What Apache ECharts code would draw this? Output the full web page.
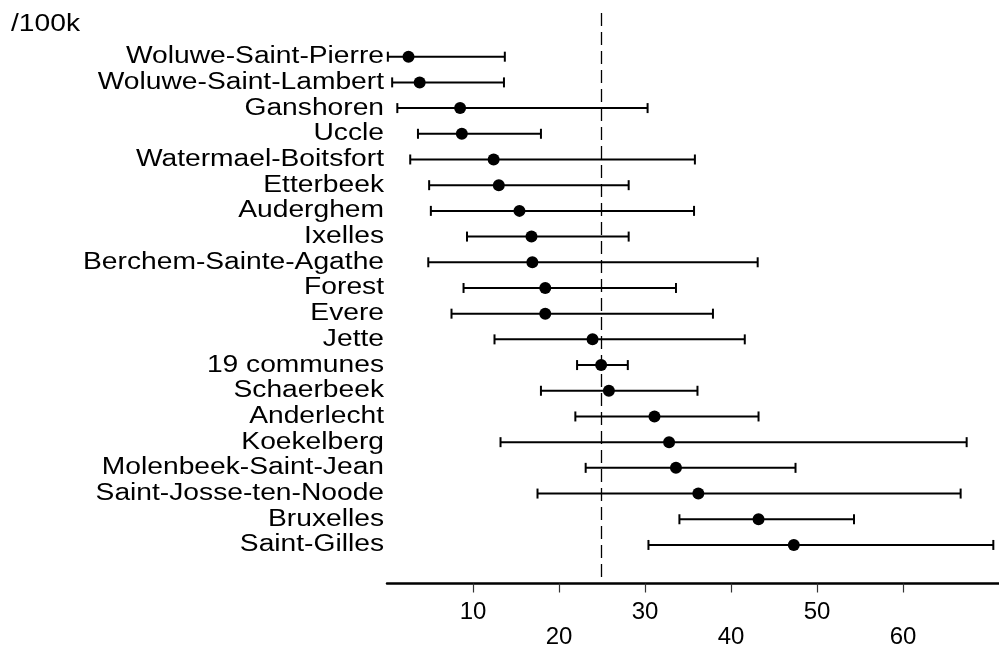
<!DOCTYPE html>
<html>
<head>
<meta charset="utf-8">
<script src="https://cdn.jsdelivr.net/npm/echarts@6/dist/echarts.min.js"></script>
<style>
  html, body { margin: 0; padding: 0; background: #fff; }
  #chart { width: 999px; height: 645px; }
</style>
</head>
<body>
<div id="chart"></div>
<script>
// Rate per 100 000 inhabitants by commune, with 95% confidence interval
const communes = [
  'Woluwe-Saint-Pierre', 'Woluwe-Saint-Lambert', 'Ganshoren', 'Uccle',
  'Watermael-Boitsfort', 'Etterbeek', 'Auderghem', 'Ixelles',
  'Berchem-Sainte-Agathe', 'Forest', 'Evere', 'Jette', '19 communes',
  'Schaerbeek', 'Anderlecht', 'Koekelberg', 'Molenbeek-Saint-Jean',
  'Saint-Josse-ten-Noode', 'Bruxelles', 'Saint-Gilles'
];
const rates = [
  2.5, 3.8, 8.5, 8.7, 12.4, 13.0, 15.4, 16.8, 16.9, 18.4,
  18.4, 23.9, 24.9, 25.8, 31.1, 32.8, 33.6, 36.2, 43.2, 47.3
];
const lowerCI = [
  0.1, 0.6, 1.2, 3.6, 2.7, 4.9, 5.1, 9.3, 4.8, 8.9,
  7.5, 12.5, 22.1, 17.9, 21.9, 13.2, 23.1, 17.5, 34.0, 30.4
];
const upperCI = [
  13.7, 13.6, 30.3, 17.9, 35.8, 28.1, 35.7, 28.1, 43.1, 33.6,
  37.9, 41.6, 28.0, 36.1, 43.2, 67.4, 47.5, 66.7, 54.3, 70.5
];
const regionMean = 24.9;
const xTicks = [10, 20, 30, 40, 50, 60];
const unitLabel = '/100k';

const FONT = '"Liberation Sans", Arial, Helvetica, sans-serif';
const TEXT_SIZE = 23.5;
const TEXT_STRETCH = 1.2;
const INK = '#000';

// one row per commune: [rate, row index, lower, upper]
const rows = communes.map((name, i) => [rates[i], i + 1, lowerCI[i], upperCI[i]]);

function renderInterval(params, api) {
  const y = api.value(1);
  const a = api.coord([api.value(2), y]);
  const b = api.coord([api.value(3), y]);
  const cap = 5;
  const style = { stroke: INK, lineWidth: 2 };
  return {
    type: 'group',
    children: [
      { type: 'line', shape: { x1: a[0], y1: a[1], x2: b[0], y2: b[1] }, style: style },
      { type: 'line', shape: { x1: a[0], y1: a[1] - cap, x2: a[0], y2: a[1] + cap }, style: style },
      { type: 'line', shape: { x1: b[0], y1: b[1] - cap, x2: b[0], y2: b[1] + cap }, style: style }
    ]
  };
}

function renderName(params, api) {
  const p = api.coord([0, api.value(1)]);
  return {
    type: 'text',
    x: p[0] - 3,
    y: p[1],
    scaleX: TEXT_STRETCH,
    style: {
      text: communes[params.dataIndex],
      fill: INK,
      fontFamily: FONT,
      fontSize: TEXT_SIZE,
      align: 'right',
      verticalAlign: 'middle'
    }
  };
}

const chart = echarts.init(document.getElementById('chart'));
chart.setOption({
  animation: false,
  backgroundColor: '#fff',
  grid: {
    left: 387, right: 0, top: 13, bottom: 61.5,
    containLabel: false,
    outerBoundsMode: 'none'
  },
  xAxis: {
    type: 'value',
    min: 0,
    max: 71.16,
    interval: 10,
    splitLine: { show: false },
    axisLine: { onZero: false, lineStyle: { color: INK, width: 2.5 } },
    axisTick: { customValues: xTicks, length: 9, lineStyle: { color: '#333', width: 1.2 } },
    axisLabel: {
      customValues: xTicks,
      margin: 17,
      color: INK,
      fontFamily: FONT,
      fontSize: 24,
      lineHeight: 24.5,
      formatter: function (v) {
        return (xTicks.indexOf(v) % 2 === 1 ? '\n' : '') + v;
      }
    }
  },
  yAxis: {
    type: 'value',
    inverse: true,
    min: -0.7,
    max: 21.5,
    show: false
  },
  graphic: [{
    type: 'text',
    x: 11,
    y: 25,
    scaleX: TEXT_STRETCH,
    style: {
      text: unitLabel,
      fill: INK,
      fontFamily: FONT,
      fontSize: TEXT_SIZE,
      verticalAlign: 'middle'
    }
  }],
  series: [
    {
      type: 'custom',
      renderItem: renderInterval,
      data: rows,
      z: 2
    },
    {
      type: 'scatter',
      data: rows.map(r => [r[0], r[1]]),
      symbol: 'circle',
      symbolSize: 12,
      itemStyle: { color: INK, opacity: 1 },
      z: 4,
      markLine: {
        silent: true,
        symbol: 'none',
        label: { show: false },
        lineStyle: { color: INK, width: 1.3, type: [13, 6] },
        data: [{ xAxis: regionMean }]
      }
    },
    {
      type: 'custom',
      renderItem: renderName,
      data: rows,
      z: 3
    }
  ]
});
</script>
</body>
</html>
